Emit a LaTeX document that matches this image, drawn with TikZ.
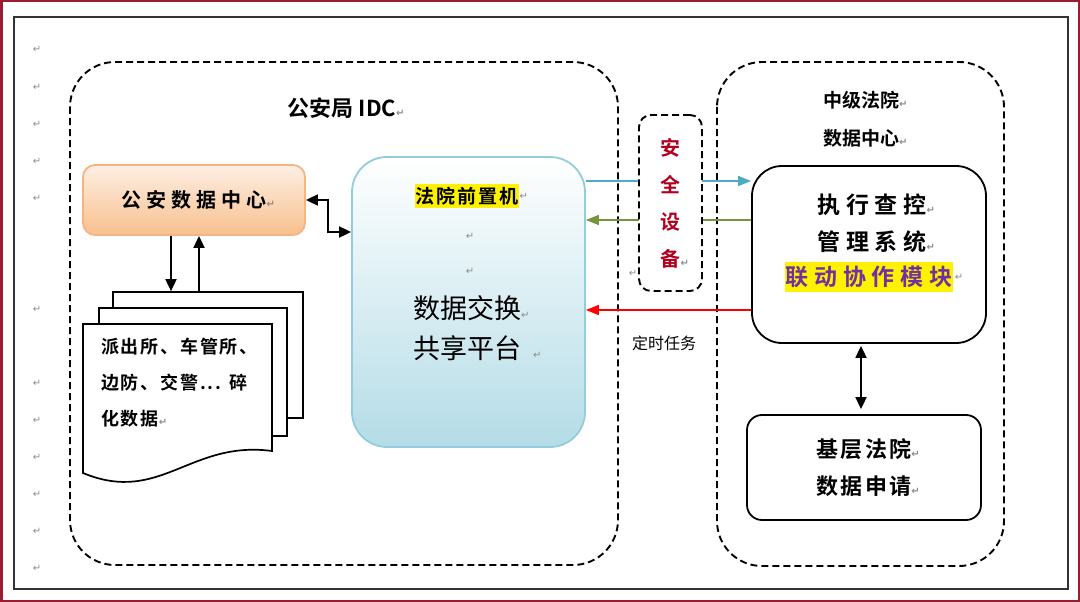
\documentclass[tikz,border=0pt]{standalone}
\usepackage{fontspec}
\setmainfont{Noto Sans CJK SC}[BoldFont={Noto Sans CJK SC Bold}]
\newfontfamily\spaced{Noto Sans CJK SC}[BoldFont={Noto Sans CJK SC Bold},LetterSpace=25]
\newfontfamily\lightspaced{Noto Sans CJK SC}[BoldFont={Noto Sans CJK SC Bold},LetterSpace=10]
\newfontfamily\markfont{DejaVu Sans}
\usetikzlibrary{arrows.meta,positioning,calc}

\definecolor{framered}{HTML}{9B1B30}
\definecolor{markgray}{HTML}{8C8C8C}
\definecolor{peachtop}{HTML}{FDEFE4}
\definecolor{peachbot}{HTML}{F8C08E}
\definecolor{peachline}{HTML}{F4B583}
\definecolor{skyline}{HTML}{93CDDD}
\definecolor{skybot}{HTML}{B4DCE7}
\definecolor{linkblue}{HTML}{4BACC6}
\definecolor{linkgreen}{HTML}{77933C}
\definecolor{securered}{HTML}{B0001E}
\definecolor{modpurple}{HTML}{7030A0}

\newcommand{\pmark}{{\markfont\color{markgray}\fontsize{10}{10}\selectfont ↵}}

\begin{document}
\begin{tikzpicture}[x=1pt, y=-1pt,
    zone/.style = {draw, dashed, dash pattern=on 7pt off 4pt, line width=1.9pt, rounded corners=45pt},
    page/.style = {draw, fill=white, line width=1.7pt},
    box/.style = {draw, line width=1.8pt, inner sep=0pt},
    arr/.style = {-{Triangle[length=12pt,width=11pt]}, line width=1.8pt},
    thinarr/.style = {-{Triangle[length=13pt,width=10pt]}, line width=1.6pt},
    darr/.style = {{Triangle[length=12pt,width=11pt]}-{Triangle[length=12pt,width=11pt]}, line width=1.8pt},
    pnode/.style = {inner sep=0pt}]
                \useasboundingbox(0,0)rectangle(1080,602);
                % frames
                \path[draw=framered, line width=2.5pt](1.25,1.25)rectangle(1078.75,600.75);
                \path[draw=black!80, line width=1.8pt](14,17)rectangle(1068,589);
                \foreach \y [count=\i] in {49,87,124,161,198,309,383,420,457,494,531,568}
                    \node[pnode](m\i)at(37,\y){\pmark};
                % zones
                \path[zone](70,62)rectangle(618,565);
                \path[zone](717,62)rectangle(1004,566);
                \node[pnode, font=\fontsize{22}{22}\selectfont\bfseries](idc)at(342,108){公安局 IDC\rlap{\pmark}};
                \node[pnode, align=center, font=\fontsize{19}{38}\selectfont\bfseries](court)at(861,119){中级法院\rlap{\pmark}\\数据中心\rlap{\pmark}};
                % police side
                \node[box, rounded corners=12pt, draw=peachline, top color=peachtop, bottom color=peachbot,
                      minimum width=222pt, minimum height=70pt, font=\spaced\fontsize{20}{20}\selectfont\bfseries]
                      (police)at(194,200){公安数据中心\rlap{\pmark}};
                \node[page, minimum width=190pt, minimum height=126pt, inner sep=0pt](pagec)at(208,355){};
                \node[page, minimum width=188pt, minimum height=128pt, inner sep=0pt](pageb)at(193,372){};
                \path[page](83,324)--(272,324)--(272,451)..controls(190,440)and(160,505)..(83,473)--cycle;
                \node[pnode, anchor=north west, align=left, font=\lightspaced\fontsize{18}{36}\selectfont\bfseries]
                      (pagea)at(101,338){派出所、车管所、\\边防、交警... 碎\\化数据\pmark};
                \path[draw, arr]([xshift=-23pt]police.south)to([xshift=-23pt]police.south |- pagec.north);
                \path[draw, arr]([xshift=5pt]police.south |- pagec.north)to([xshift=5pt]police.south);
                % exchange platform
                \node[box, rounded corners=35pt, draw=skyline, top color=white, bottom color=skybot,
                      minimum width=233pt, minimum height=290pt](platform)at(468.5,302){};
                \path[draw, darr](police.east)--++(22,0)|-([yshift=70pt]platform.west);
                \node[pnode, fill=yellow, inner xsep=1pt, inner ysep=3pt, font=\lightspaced\fontsize{19}{19}\selectfont\bfseries]
                      (frontend)at(467,196){法院前置机};
                \node[pnode, right=0pt of frontend](fm){\pmark};
                \node[pnode](pm1)at(470,236){\pmark};
                \node[pnode](pm2)at(470,271){\pmark};
                \node[pnode, align=center, font=\fontsize{27}{40}\selectfont](share)at(467,328){数据交换\rlap{\pmark}\\共享平台\rlap{\hspace{12pt}\pmark}};
                % court side
                \node[box, rounded corners=30pt, minimum width=234pt, minimum height=177pt](system)at(869,254.5){};
                \node[pnode, font=\spaced\fontsize{23}{23}\selectfont\bfseries](sys1)at(872,205){执行查控\rlap{\pmark}};
                \node[pnode, font=\spaced\fontsize{23}{23}\selectfont\bfseries](sys2)at(872,242){管理系统\rlap{\pmark}};
                \node[pnode, fill=yellow, inner xsep=1pt, inner ysep=4pt, text=modpurple, font=\spaced\fontsize{23}{23}\selectfont\bfseries]
                      (sys3)at(869,277){联动协作模块};
                \node[pnode, right=1pt of sys3](sm){\pmark};
                \node[box, rounded corners=15pt, minimum width=234pt, minimum height=105pt, align=center,
                      font=\lightspaced\fontsize{22}{37}\selectfont\bfseries](base)at(864,467.5){基层法院\rlap{\pmark}\\数据申请\rlap{\pmark}};
                \path[draw, darr, shorten <=2pt, shorten >=5pt]([xshift=-8pt]system.south)to([xshift=-8pt]system.south |- base.north);
                % links
                \path[draw, thinarr, linkblue]([yshift=121pt]platform.east)to([yshift=121pt]platform.east -| system.west);
                \path[draw, thinarr, linkgreen]([yshift=34.5pt]system.west)to([yshift=34.5pt]system.west -| platform.east);
                \path[draw, thinarr, red]([yshift=-55.5pt]system.west)to([yshift=-55.5pt]system.west -| platform.east);
                \node[pnode, font=\fontsize{16}{16}\selectfont](timer)at(664,343){定时任务};
                \node[box, dashed, dash pattern=on 7pt off 4pt, line width=1.9pt, rounded corners=12pt, fill=white,
                      minimum width=63pt, minimum height=176pt, align=center, text=securered,
                      font=\fontsize{20}{37}\selectfont\bfseries](secure)at(670.5,203){安\\全\\设\\备\rlap{\pmark}};
                \node[pnode](sec)at(633,273){\pmark};
            \end{tikzpicture}
\end{document}
